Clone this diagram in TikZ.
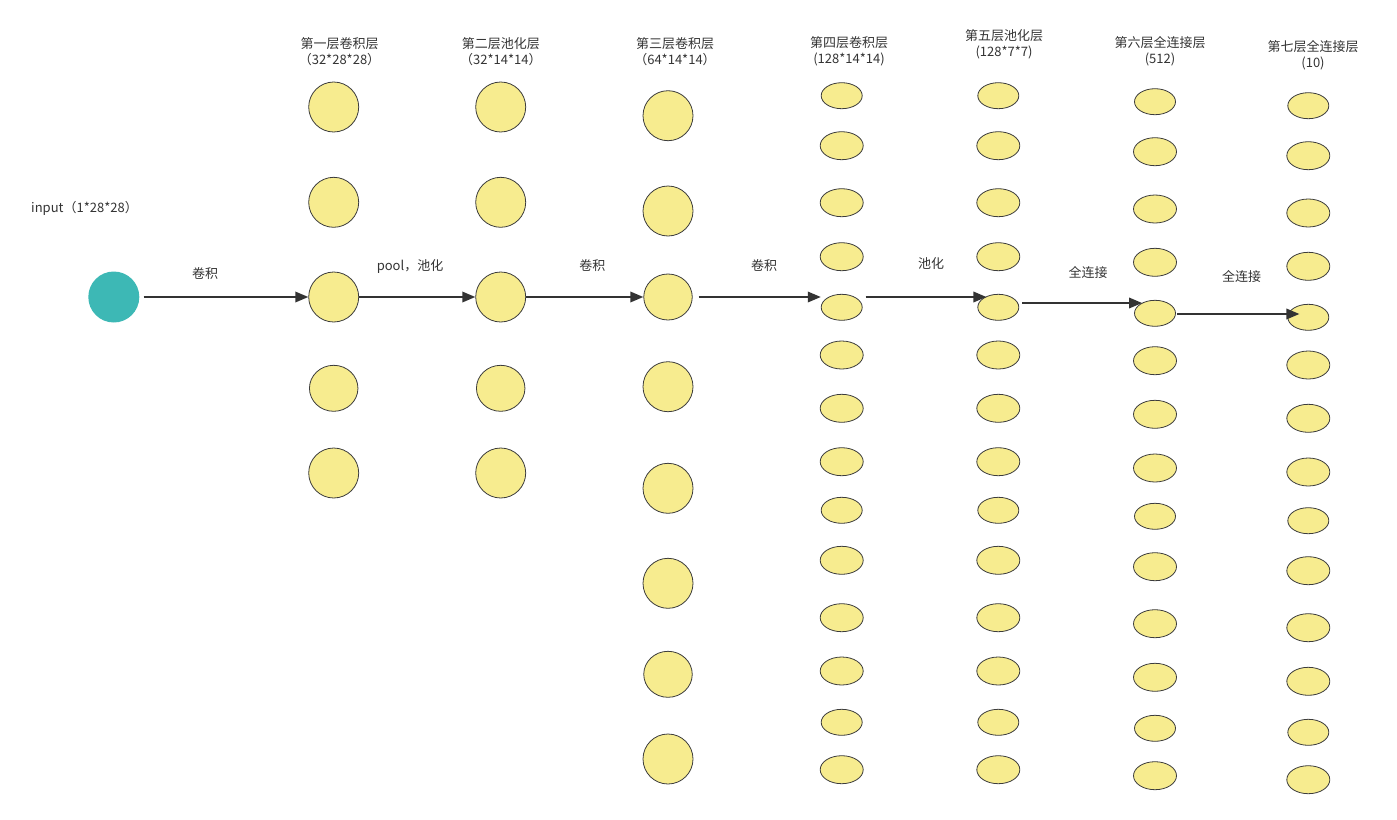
\documentclass[tikz,border=0pt]{standalone}
\usepackage{fontspec}
\newfontfamily\cjk{Noto Sans CJK SC}
\usetikzlibrary{shapes.geometric,arrows.meta}
\definecolor{yel}{RGB}{247,236,143}
\definecolor{edge}{RGB}{60,60,60}
\definecolor{teal}{RGB}{61,184,181}
\definecolor{txt}{RGB}{51,51,51}
\definecolor{arr}{RGB}{51,51,51}
\tikzset{
  neuron/.style={ellipse, draw=edge, fill=yel, line width=0.8pt, inner sep=0pt},
  cB/.style={neuron, minimum width=50pt, minimum height=50pt},
  cS/.style={neuron, minimum width=48.5pt, minimum height=46pt},
  eB/.style={neuron, minimum width=43pt, minimum height=28pt},
  eS/.style={neuron, minimum width=41pt, minimum height=26pt},
  lbl/.style={font=\cjk\fontsize{13}{16}\selectfont, text=txt, inner sep=0pt, align=center},
  flow/.style={draw=arr, line width=1.8pt, -{Triangle[length=13pt,width=10.5pt]}},
}
\begin{document}
\begin{tikzpicture}[x=1pt,y=-1pt]
\useasboundingbox (0,0) rectangle (1397,819);
% input
\node[ellipse, fill=teal, inner sep=0pt, minimum width=51pt, minimum height=51pt] (in) at (113.8,297) {};
\node[lbl, anchor=west] (inlbl) at (31,208.5) {input（1*28*28）};
% layer 1
\foreach \y/\s [count=\i] in {107/cB,202.3/cB,297/cB,388.3/cS,473/cB}
  \node[\s] (a\i) at (333.7,\y) {};
% layer 2
\foreach \y/\s [count=\i] in {107/cB,202.3/cB,297/cB,388.3/cS,473/cB}
  \node[\s] (b\i) at (500.7,\y) {};
% layer 3
\foreach \y/\s [count=\i] in {115.7/cB,211/cB,297/cS,386.7/cB,488.3/cB,583.3/cB,674.3/cS,759/cB}
  \node[\s] (c\i) at (668,\y) {};
% layer 4
\foreach \y/\s [count=\i] in {95.7/eS,145.7/eB,202.7/eB,256.7/eB,307.3/eS,355/eB,408.3/eB,461.7/eB,510.3/eS,560.3/eB,617.7/eB,671/eB,722.3/eS,769.7/eB}
  \node[\s] (d\i) at (841.7,\y) {};
% layer 5
\foreach \y/\s [count=\i] in {95.7/eS,145.7/eB,202.7/eB,256.7/eB,307.3/eS,355/eB,408.3/eB,461.7/eB,510.3/eS,560.3/eB,617.7/eB,671/eB,722.3/eS,769.7/eB}
  \node[\s] (e\i) at (998.3,\y) {};
% layer 6
\foreach \y/\s [count=\i] in {101.7/eS,151.7/eB,209/eB,262.3/eB,313.3/eS,360.7/eB,414.3/eB,468/eB,516.3/eS,566.7/eB,623.7/eB,677.3/eB,728.3/eS,775.7/eB}
  \node[\s] (f\i) at (1155,\y) {};
% layer 7
\foreach \y/\s [count=\i] in {105.7/eS,155.7/eB,213/eB,266.3/eB,317.3/eS,365/eB,418.3/eB,472/eB,520.7/eS,570.7/eB,627.7/eB,681.3/eB,732.3/eS,779.7/eB}
  \node[\s] (g\i) at (1308.3,\y) {};
% headers
\node[lbl] (h1) at (339.5,51.5) {第一层卷积层\\（32*28*28）};
\node[lbl] (h2) at (500.8,51.5) {第二层池化层\\（32*14*14）};
\node[lbl] (h3) at (675,51.5) {第三层卷积层\\（64*14*14）};
\node[lbl] (h4) at (849,51.5) {第四层卷积层\\(128*14*14)};
\node[lbl] (h5) at (1004,44.5) {第五层池化层\\(128*7*7)};
\node[lbl] (h6) at (1160,51.5) {第六层全连接层\\(512)};
\node[lbl] (h7) at (1313,55.5) {第七层全连接层\\(10)};
% arrows
\coordinate (p4) at ([xshift=6pt]c3.east);
\coordinate (p5) at ([xshift=3pt]d5.east |- c3.east);
\coordinate (q5) at ([xshift=9pt]e5.west |- c3.east);
\coordinate (p6) at ([xshift=3pt]e5.east |- 0,303);
\coordinate (q6) at ([xshift=8pt]f5.west |- 0,303);
\coordinate (p7) at ([xshift=1pt]f5.east |- 0,314);
\coordinate (q7) at ([xshift=12pt]g5.west |- 0,314);
\draw[flow] ([xshift=4pt]in.east) -- (a3.west);
\draw[flow] (a3.east) -- (b3.west);
\draw[flow] (b3.east) -- (c3.west);
\draw[flow] (p4) -- (d5.west |- p4);
\draw[flow] (p5) -- (q5);
\draw[flow] (p6) -- (q6);
\draw[flow] (p7) -- (q7);
% arrow labels
\node[lbl] (l1) at (205,274) {卷积};
\node[lbl] (l2) at (410,267) {pool，池化};
\node[lbl] (l3) at (592.3,266) {卷积};
\node[lbl] (l4) at (764,266) {卷积};
\node[lbl] (l5) at (931,263.3) {池化};
\node[lbl] (l6) at (1088,272) {全连接};
\node[lbl] (l7) at (1241.7,276.7) {全连接};
\end{tikzpicture}
\end{document}
